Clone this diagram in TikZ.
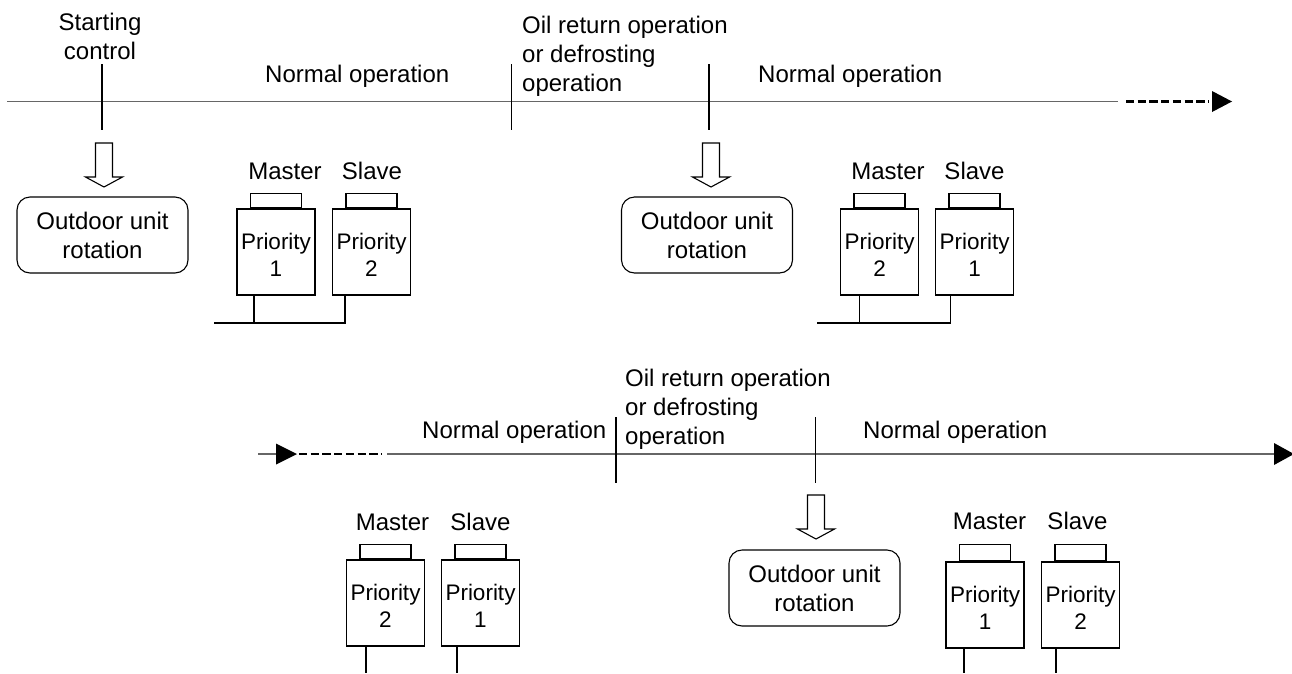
\documentclass[tikz,border=0pt]{standalone}
\usepackage{fontspec}
\setmainfont{Liberation Sans}
\newcommand\prioline{\rule{0pt}{22pt}Priority}
\begin{document}
\begin{tikzpicture}[x=1pt,y=-1pt,
  txt/.style={font=\fontsize{24}{29}\selectfont, inner sep=0pt},
  ubody/.style={draw, line width=1.1pt, minimum width=78pt, minimum height=86pt, inner sep=0pt, align=center, font=\fontsize{22.5}{27}\selectfont},
  ucap/.style={draw, line width=1.1pt, minimum width=51pt, minimum height=14pt, inner sep=0pt, anchor=south},
  obox/.style={draw, line width=1.1pt, rounded corners=13pt, minimum width=171pt, minimum height=76pt, inner sep=0pt, align=center, font=\fontsize{24}{29}\selectfont},
  wire/.style={line width=1.1pt},
  tick/.style={line width=1.1pt},
  tline/.style={line width=1.7pt, draw=black!60},
  dline/.style={line width=2.6pt, dash pattern=on 8.3pt off 3.4pt},
  hollowarrow/.pic={\draw[line width=1.1pt, line join=miter] (-8.5,0) -- (8.5,0) -- (8.5,34) -- (18.5,34) -- (0,44) -- (-18.5,34) -- (-8.5,34) -- cycle;}
]
\useasboundingbox (0,0) rectangle (1292,673);

% ---------- top timeline ----------
\coordinate (t0) at (7,101.5);
\coordinate (t1) at (1118,101.5);
\coordinate (t2) at (1126,101.5);
\coordinate (t3) at (1209,101.5);
\draw[tline] (t0) -- (t1);
\draw[dline] (t2) -- (t3);
\fill (1212,91) -- (1232,101.5) -- (1212,112) -- cycle;

\coordinate (k1a) at (102,64);  \coordinate (k1b) at (102,130);
\coordinate (k2a) at (511.5,64); \coordinate (k2b) at (511.5,130);
\coordinate (k3a) at (709,64);  \coordinate (k3b) at (709,130);
\draw[tick] (k1a) -- (k1b);
\draw[tick] (k2a) -- (k2b);
\draw[tick] (k3a) -- (k3b);

\node[txt, anchor=base, align=center] (start) at (100,59) {Starting\\control};
\node[txt, anchor=base west] (n1) at (265,82) {Normal operation};
\node[txt, anchor=base west, align=left] (oil1) at (522,91) {Oil return operation\\or defrosting\\operation};
\node[txt, anchor=base west] (n2) at (758,82) {Normal operation};

\pic at (104,143) {hollowarrow};
\pic at (711,143) {hollowarrow};
\node[obox] (r1) at (102.5,235) {Outdoor unit\\rotation};
\node[obox] (r2) at (707,235) {Outdoor unit\\rotation};

% group 1
\node[ubody] (m1) at (276,252) {\prioline\\1};
\node[ucap] (m1c) at (m1.north) {};
\node[ubody] (s1) at (371.5,252) {\prioline\\2};
\node[ucap] (s1c) at (s1.north) {};
\node[txt, anchor=base] (m1l) at (285,179) {Master};
\node[txt, anchor=base] (s1l) at (372,179) {Slave};
\coordinate (j1a) at (254,323); \coordinate (j1b) at (345,323); \coordinate (j1l) at (214,323);
\draw[wire] (m1.south -| j1a) -- (j1a);
\draw[wire] (s1.south -| j1b) -- (j1b) -- (j1l);

% group 2
\node[ubody] (m2) at (879.5,252) {\prioline\\2};
\node[ucap] (m2c) at (m2.north) {};
\node[ubody] (s2) at (974.5,252) {\prioline\\1};
\node[ucap] (s2c) at (s2.north) {};
\node[txt, anchor=base] (m2l) at (888,179) {Master};
\node[txt, anchor=base] (s2l) at (974.5,179) {Slave};
\coordinate (j2a) at (859.5,323); \coordinate (j2b) at (950.5,323); \coordinate (j2l) at (817,323);
\draw[wire] (m2.south -| j2a) -- (j2a);
\draw[wire] (s2.south -| j2b) -- (j2b) -- (j2l);

% ---------- bottom timeline ----------
\coordinate (b0) at (258,454);
\coordinate (b1) at (276,454);
\coordinate (b2) at (299,454);
\coordinate (b3) at (381,454);
\coordinate (b4) at (387,454);
\coordinate (b5) at (1275,454);
\draw[tline] (b0) -- (b1);
\fill (276,443.5) -- (297,454) -- (276,464.5) -- cycle;
\draw[dline] (b2) -- (b3);
\draw[tline] (b4) -- (b5);
\fill (1274,443) -- (1294,454) -- (1274,465) -- cycle;

\coordinate (k4a) at (616,417);   \coordinate (k4b) at (616,482.5);
\coordinate (k5a) at (815.5,417); \coordinate (k5b) at (815.5,482.5);
\draw[tick] (k4a) -- (k4b);
\draw[tick] (k5a) -- (k5b);

\node[txt, anchor=base west] (n3) at (422,438) {Normal operation};
\node[txt, anchor=base west, align=left] (oil2) at (625,444) {Oil return operation\\or defrosting\\operation};
\node[txt, anchor=base west] (n4) at (863,438) {Normal operation};

\pic at (816,495) {hollowarrow};
\node[obox] (r3) at (814.5,588) {Outdoor unit\\rotation};

% group 3
\node[ubody] (m3) at (385.5,603) {\prioline\\2};
\node[ucap] (m3c) at (m3.north) {};
\node[ubody] (s3) at (480.5,603) {\prioline\\1};
\node[ucap] (s3c) at (s3.north) {};
\node[txt, anchor=base] (m3l) at (392.5,530) {Master};
\node[txt, anchor=base] (s3l) at (480.5,530) {Slave};
\coordinate (e3a) at (366,673); \coordinate (e3b) at (457,673);
\draw[wire] (m3.south -| e3a) -- (e3a);
\draw[wire] (s3.south -| e3b) -- (e3b);

% group 4
\node[ubody] (m4) at (985,605) {\prioline\\1};
\node[ucap, minimum height=16pt] (m4c) at (m4.north) {};
\node[ubody] (s4) at (1080.5,605) {\prioline\\2};
\node[ucap, minimum height=16pt] (s4c) at (s4.north) {};
\node[txt, anchor=base] (m4l) at (989.5,529) {Master};
\node[txt, anchor=base] (s4l) at (1077.5,529) {Slave};
\coordinate (e4a) at (964,673); \coordinate (e4b) at (1056,673);
\draw[wire] (m4.south -| e4a) -- (e4a);
\draw[wire] (s4.south -| e4b) -- (e4b);
\end{tikzpicture}
\end{document}
